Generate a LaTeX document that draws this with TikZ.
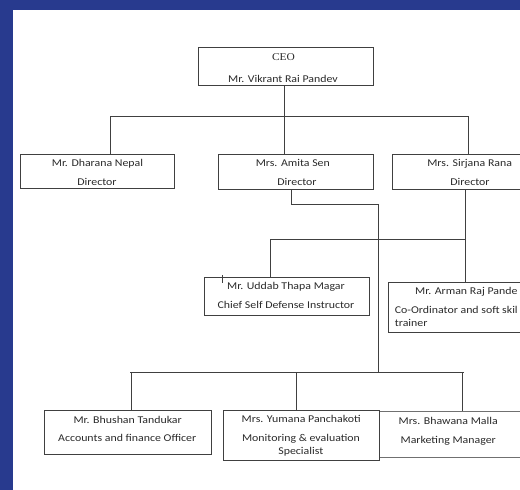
\documentclass[tikz,border=0pt]{standalone}
\usepackage{fontspec}
\setmainfont{Carlito}[FakeStretch=1.14]
\newfontfamily\serifface{Liberation Serif}[FakeStretch=1.1]
\definecolor{bordblue}{HTML}{283A8E}
\definecolor{linegray}{HTML}{404040}
\definecolor{lightline}{HTML}{707070}
\definecolor{textgray}{HTML}{2A2A2A}
\begin{document}
\begin{tikzpicture}[x=1pt,y=-1pt,
  box/.style={draw=linegray, line width=0.9pt, inner sep=0pt, anchor=north west},
  conn/.style={draw=linegray, line width=0.9pt},
  lbl/.style={text=textgray, inner sep=0pt, text height=7pt, text depth=0pt,
              font=\fontsize{10.4}{12}\selectfont}]
\useasboundingbox (0,0) rectangle (520,490);
\clip (0,0) rectangle (520,490);
\fill[bordblue] (0,0) rectangle (520,490);
\fill[white] (13,10) rectangle (520,490);

% boxes
\node[box, minimum width=175pt, minimum height=38.5pt] (ceo) at (198,46.5) {};
\node[box, minimum width=154pt, minimum height=34.5pt] (dharana) at (20,153.5) {};
\node[box, minimum width=154.5pt, minimum height=35.5pt] (amita) at (218,153.5) {};
\node[box, minimum width=140pt, minimum height=35.5pt] (sirjana) at (392,153.5) {};
\node[box, minimum width=164.5pt, minimum height=37.5pt] (uddab) at (204,277) {};
\node[box, minimum width=140pt, minimum height=50pt] (arman) at (387.5,281.7) {};
\node[box, minimum width=167.5pt, minimum height=44.7pt] (bhushan) at (43.5,409.7) {};
\node[box, draw=lightline, minimum width=150pt, minimum height=46.5pt] (bhawana) at (379,410.5) {};
\node[box, minimum width=156.5pt, minimum height=50.3pt] (yumana) at (222.5,409.7) {};

% labels
\node[lbl, font=\fontsize{10.4}{12}\serifface] (t1) at (283.5,56.7) {CEO};
\node[lbl] (t2) at (283,79.3) {Mr. Vikrant Rai Pandev};
\node[lbl] (t3) at (97.5,163) {Mr. Dharana Nepal};
\node[lbl] (t4) at (97,182) {Director};
\node[lbl] (t5) at (292.8,163) {Mrs. Amita Sen};
\node[lbl] (t6) at (297,182) {Director};
\node[lbl] (t7) at (469.7,163) {Mrs. Sirjana Rana};
\node[lbl] (t8) at (470,182) {Director};
\node[lbl] (t9) at (286,286) {Mr. Uddab Thapa Magar};
\node[lbl] (t10) at (286,305) {Chief Self Defense Instructor};
\node[lbl, anchor=west] (t11) at (415,290.7) {Mr. Arman Raj Pande};
\node[lbl, anchor=west] (t12) at (394.7,310) {Co-Ordinator and soft skil};
\node[lbl, anchor=west] (t13) at (394.7,322.7) {trainer};
\node[lbl] (t14) at (127.7,419.7) {Mr. Bhushan Tandukar};
\node[lbl] (t15) at (127.2,438.3) {Accounts and finance Officer};
\node[lbl] (t16) at (301.2,419) {Mrs. Yumana Panchakoti};
\node[lbl] (t17) at (301,438) {Monitoring \& evaluation};
\node[lbl] (t18) at (300.8,450.7) {Specialist};
\node[lbl] (t19) at (448.2,421.3) {Mrs. Bhawana Malla};
\node[lbl] (t20) at (448.2,440) {Marketing Manager};

% junction coordinates
\coordinate (jtop) at (284.5,116);
\coordinate (jl) at (110.5,116);
\coordinate (jr) at (468.5,116);
\coordinate (a1) at (291,204.7);
\coordinate (a2) at (378,204.7);
\coordinate (a3) at (378,372.3);
\coordinate (s0) at (270,239);
\coordinate (s1) at (465,239);
\coordinate (bl) at (130,372.3);
\coordinate (br) at (464,372.3);
\coordinate (b1) at (131,372.3);
\coordinate (b2) at (296.5,372.3);
\coordinate (b3) at (462,372.3);
\coordinate (tk) at (222,275);

% connectors
\draw[conn] (ceo.south -| jtop) -- (amita.north -| jtop);
\draw[conn] (jl) -- (jr);
\draw[conn] (jl) -- (dharana.north -| jl);
\draw[conn] (jr) -- (sirjana.north -| jr);
\draw[conn] (amita.south -| a1) -- (a1) -- (a2) -- (a3);
\draw[conn] (sirjana.south -| s1) -- (arman.north -| s1);
\draw[conn] (s0) -- (s1);
\draw[conn] (s0) -- (uddab.north -| s0);
\draw[conn] (bl) -- (br);
\draw[conn] (b1) -- (bhushan.north -| b1);
\draw[conn] (b2) -- (yumana.north -| b2);
\draw[conn] (b3) -- (bhawana.north -| b3);
\draw[conn, line width=0.7pt] (tk) -- ++(0,8);
\end{tikzpicture}
\end{document}
